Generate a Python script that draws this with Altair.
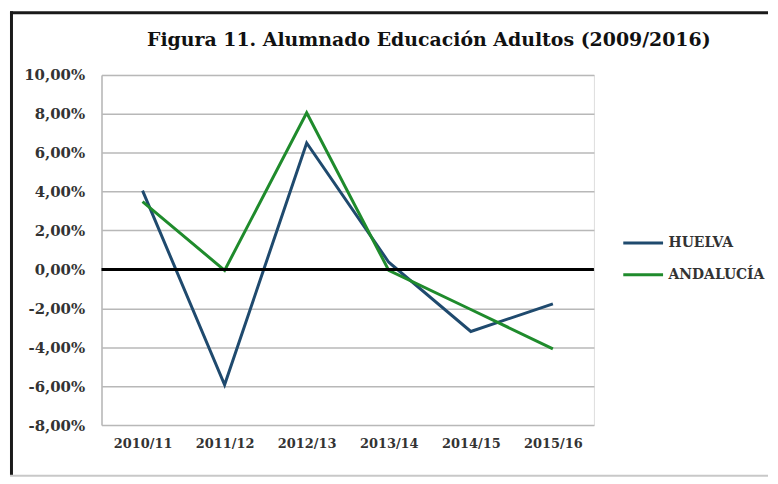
import altair as alt
import pandas as pd

categories = ["2010/11", "2011/12", "2012/13", "2013/14", "2014/15", "2015/16"]
huelva = [4.05, -5.93, 6.5, 0.37, -3.19, -1.77]
andalucia = [3.49, -0.05, 8.05, -0.05, -2.06, -4.08]
series = ["HUELVA", "ANDALUCÍA"]
colors = ["#1F4A6E", "#1F8B2C"]
y_ticks = [-8, -6, -4, -2, 0, 2, 4, 6, 8, 10]
title_text = "Figura 11. Alumnado Educación Adultos (2009/2016)"

rows = []
for name, vals in zip(series, [huelva, andalucia]):
    for c, v in zip(categories, vals):
        rows.append({"curso": c, "valor": v, "serie": name})
df = pd.DataFrame(rows)

W, H = 495, 352
FONT = "DejaVu Serif"
label_expr = ("(datum.value < 0 ? '-' : '') + "
              "replace(format(abs(datum.value), '.2f'), '.', ',') + '%'")

dummy = alt.Data(values=[{}])

lines = alt.Chart(df).mark_line(strokeWidth=3).encode(
    x=alt.X("curso:N", sort=categories, title=None,
            axis=alt.Axis(labelAngle=0, labelFont=FONT, labelFontSize=13,
                          labelFontWeight="bold", labelColor="#333333",
                          domain=False, ticks=False, tickSize=0,
                          labelPadding=13, grid=False)),
    y=alt.Y("valor:Q", title=None,
            scale=alt.Scale(domain=[-8, 10], nice=False, zero=False),
            axis=alt.Axis(values=y_ticks, tickCount=len(y_ticks) + 2,
                          labelExpr=label_expr, labelFont=FONT,
                          labelFontSize=15, labelFontWeight="bold",
                          labelColor="#333333", grid=True, gridColor="#b8b8b8",
                          gridWidth=1.5, domain=True, domainColor="#b8b8b8",
                          domainWidth=1.5, ticks=False, tickSize=0,
                          labelPadding=17, labelOverlap=False)),
    color=alt.Color("serie:N", sort=series, title=None,
                    scale=alt.Scale(domain=series, range=colors),
                    legend=alt.Legend(orient="none", legendX=523, legendY=153,
                                      symbolType="stroke", symbolSize=1600,
                                      symbolStrokeWidth=3, clipHeight=32,
                                      rowPadding=0, labelOffset=4, padding=0,
                                      labelFont=FONT, labelFontSize=14,
                                      labelFontWeight="bold",
                                      labelColor="#333333")),
)

zero = alt.Chart(dummy).mark_rule(color="black", strokeWidth=3).encode(
    y=alt.datum(0)
)

frame_left = alt.Chart(dummy).mark_rule(color="#1a1a1a", strokeWidth=3).encode(
    x=alt.value(-90.5), y=alt.value(-64), y2=alt.value(403)
)
frame_top = alt.Chart(dummy).mark_rule(color="#1a1a1a", strokeWidth=3).encode(
    x=alt.value(-92), x2=alt.value(670), y=alt.value(-62.5)
)
frame_bottom = alt.Chart(dummy).mark_rule(color="#c8c8c8", strokeWidth=2).encode(
    x=alt.value(-92), x2=alt.value(670), y=alt.value(403)
)

title = alt.Chart(dummy).mark_text(
    font=FONT, fontSize=19, fontWeight="bold", color="#111111",
    align="center", baseline="alphabetic"
).encode(x=alt.value(329), y=alt.value(-29), text=alt.value(title_text))

chart = alt.layer(frame_left, frame_top, frame_bottom, title, lines, zero).properties(
    width=W, height=H, padding=0,
).configure_view(stroke=None).configure(background="white")

chart.save("out.html", embed_options={"renderer": "svg", "actions": False})
